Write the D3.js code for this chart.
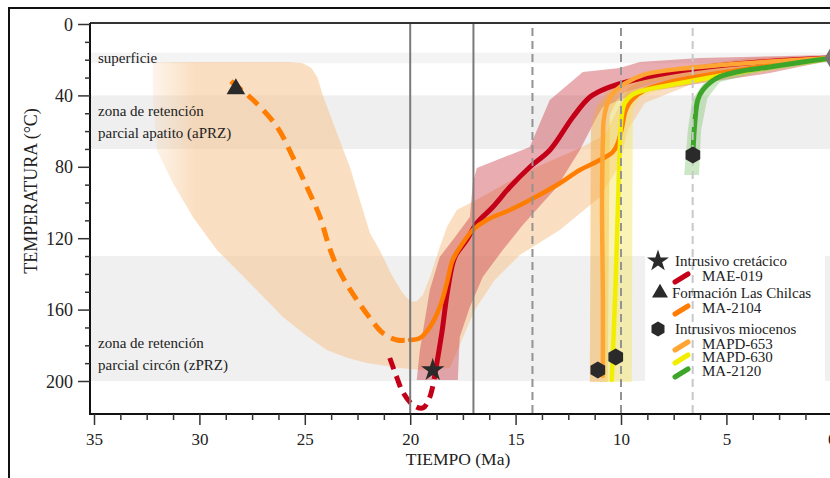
<!DOCTYPE html>
<html><head><meta charset="utf-8">
<script src="https://cdn.jsdelivr.net/npm/d3@7"></script>
<style>
body{margin:0;background:#fff;}
svg text{font-family:"Liberation Serif","Times New Roman",serif;fill:#222;}
</style></head>
<body><svg id="c" width="830" height="478"></svg>
<script>
// ---------- DATA ----------
const xTicksMajor = [35,30,25,20,15,10,5,0];
const xTicksMinor = [33.75,32.5,31.25,28.75,27.5,26.25,23.75,22.5,21.25,18.75,17.5,16.25,13.75,12.5,11.25,8.75,7.5,6.25,3.75,2.5,1.25];
const yTicksMajor = [0,40,80,120,160,200];
const yTicksMinor = [10,20,30,50,60,70,90,100,110,130,140,150,170,180,190];

const bands = [
  {t0:16, t1:22, fill:"#f4f4f4"},
  {t0:40, t1:70, fill:"#efefef"},
  {t0:130, t1:200, fill:"#f0f0f0"}
];
const zoneLabels = [
  {lines:["superficie"], t:19},
  {lines:["zona de retención","parcial apatito (aPRZ)"], t:55},
  {lines:["zona de retención","parcial circón (zPRZ)"], t:185}
];
const solidRefs = [20, 17];
const dashedRefs = [14.2, 10];
const lightDashedRefs = [6.6];

// MA-2104 (Formación Las Chilcas)
const ma2104Dashed = [[28.5,32],[28.40,33.1],[27.45,42.6],[26.31,57.7],[25.57,74.5],[24.90,91.3],[24.28,108.1],[23.90,122.7],[23.57,133.3],[23.10,144.0],[22.53,154.6],[21.91,164.7],[21.30,173.1],[20.63,177.0],[20.01,177.0]];
const ma2104Solid = [[20.01,177.0],[19.54,175.9],[19.06,169.7],[18.59,158.5],[18.26,145.1],[17.98,132.2],[17.50,122.7],[17.03,115.4],[16.37,109.8],[15.27,104.2],[14.32,98.6],[13.04,90.2],[11.95,81.8],[11.00,76.2],[10.39,71.7],[10.15,66.7],[9.96,58.3],[9.77,48.2],[9.49,42.6],[8.87,37.0],[7.68,32.5],[5.31,27.5],[2.47,22.4],[0,19]];
const ma2104Env = [[32.21,21.3],[25.71,21.3],[25.1,22.0],[24.7,24.5],[24.4,30],[24.15,39.8],[23.48,61.1],[22.86,80.1],[22.39,98.6],[21.91,117.1],[21.45,126.6],[20.9,140],[20.4,150],[20.0,155.5],[19.7,155.5],[19.4,151.8],[19.06,141.7],[18.6,125],[18.26,113.7],[17.79,104.2],[16.70,97.5],[14.33,81.8],[11.95,69.5],[10.77,62.2],[10.29,51.0],[9.68,35.9],[8.16,25.8],[3.89,19.0],[0,17.9],
  [0,20.7],[3.89,25.8],[6.74,34.2],[8.87,44.3],[9.68,59.4],[10.06,79.0],[11.0,96.9],[12.9,115.4],[14.8,129.4],[15.99,143.4],[16.94,160.2],[17.55,177.0],[18.12,192.7],[19.54,193.8],[20.49,192.7],[22.06,189.9],[23.0,187],[23.96,182.6],[25.0,174],[26.04,164.1],[27.61,145.1],[29.17,126.6],[30.31,108.1],[31.26,89.1],[32.02,70.6],[32.21,42.6]];
const ma2104Marker = [28.27,36.4];

// MAE-019 (Intrusivo cretácico)
const mae019Dashed = [[20.97,187.1],[20.64,197.8],[20.35,206.2],[19.87,213.4],[19.40,215.1],[19.07,209.0],[18.83,196.6]];
const mae019Solid = [[18.83,196.6],[18.50,173.1],[18.22,149.0],[17.88,130.5],[17.32,121.0],[16.84,111.5],[16.08,102.5],[15.27,91.3],[14.32,80.1],[13.37,70.6],[12.28,52.1],[11.47,40.9],[10.67,35.9],[8.77,29.7],[6.26,24.6],[3.41,21.3],[0,19]];
const mae019Env = [[19.69,199.4],[19.54,182.6],[19.07,149.0],[18.60,130.5],[17.98,121.0],[17.17,108.1],[17.03,89.1],[16.84,80.7],[14.33,68.9],[13.38,42.6],[11.81,26.9],[10.06,24.6],[9.11,21.3],[6.26,19.0],[0,17.4],
  [0,20.2],[2.94,27.5],[6.12,33.1],[9.25,38.7],[10.86,46.5],[11.15,52.1],[11.95,70.6],[13.04,91.3],[14.66,112.6],[15.61,126.6],[16.56,141.7],[17.17,158.5],[17.65,175.4],[17.74,199.4]];
const mae019Marker = [18.93,193.8];

// MAPD-653
const mapd653Line = [[10.86,197.2],[10.86,154.6],[10.90,98.6],[10.86,65],[10.82,53.8],[10.67,45.4],[10.44,39.8],[10.06,35.3],[8.97,28.6],[7.68,25.8],[5.31,23.0],[2.47,20.7],[0,19]];
const mapd653Env = [[11.48,200.6],[11.43,59.4],[11.2,47.1],[10.67,38.1],[9.58,31.4],[6.26,24.6],[0,17.9],[0,20.2],[5.31,26.9],[8.63,32.5],[10.06,39.8],[10.53,51.0],[10.63,200.6]];
const mapd653Marker = [11.10,193.8];

// MAPD-630
const mapd630Line = [[10.44,199.4],[10.34,171.4],[10.25,143.4],[10.15,104.2],[10.06,70.6],[9.96,51.0],[9.82,44.3],[9.49,39.8],[8.87,37.0],[7.68,34.2],[5.65,29.7],[2.94,24.1],[0,19]];
const mapd630Env = [[10.86,200.6],[10.77,65.0],[10.44,45.4],[9.82,38.1],[8.16,32.5],[4.36,25.8],[0,17.9],[0,20.7],[4.36,29.1],[8.16,37.0],[9.11,40.9],[9.44,48.2],[9.49,200.6]];
const mapd630Marker = [10.25,186.6];

// MA-2120
const ma2120Line = [[6.59,73.4],[6.50,55.5],[6.36,42.6],[6.12,37.0],[5.46,30.3],[4.50,26.9],[2.94,24.1],[1.38,21.3],[0,19]];
const ma2120Env = [[7.0,84.6],[6.83,59.4],[6.62,42.6],[6.1,33.5],[4.36,25.8],[0,17.9],[0,20.7],[3.42,26.9],[5.31,32.5],[5.9,41.5],[6.2,59.4],[6.3,84.6]];
const ma2120Marker = [6.59,73.4];

const surfacePoint = [0,19];

const legendItems = [
  {type:"marker", symbol:"star", label:"Intrusivo cretácico"},
  {type:"line", color:"#c40018", label:"MAE-019"},
  {type:"marker", symbol:"triangle", label:"Formación Las Chilcas"},
  {type:"line", color:"#ff7d00", label:"MA-2104"},
  {type:"marker", symbol:"hexagon", label:"Intrusivos miocenos"},
  {type:"line", color:"#ffa533", label:"MAPD-653"},
  {type:"line", color:"#f2ee00", label:"MAPD-630"},
  {type:"line", color:"#3ca52a", label:"MA-2120"}
];

// ---------- DRAW ----------
const svg = d3.select("#c");
const x = d3.scaleLinear().domain([35,0]).range([94,831.8]);
const y = d3.scaleLinear().domain([0,200]).range([24,381]);
const L = 90, T = 23, B = 414, R = 860;
const markFill = "#2a2a2a";

const defs = svg.append("defs");
const g1 = defs.append("linearGradient").attr("id","peachGrad").attr("gradientUnits","userSpaceOnUse")
  .attr("x1",150).attr("x2",195).attr("y1",0).attr("y2",0);
g1.append("stop").attr("offset",0).attr("stop-color","#f7c48f").attr("stop-opacity",0.15);
g1.append("stop").attr("offset",1).attr("stop-color","#f7c48f").attr("stop-opacity",0.55);

// outer frame
svg.append("rect").attr("x",9).attr("y",8).attr("width",900).attr("height",600)
  .attr("fill","none").attr("stroke","#111").attr("stroke-width",2);

// bands
svg.selectAll(".band").data(bands).join("rect")
  .attr("x",L+1).attr("width",R-L).attr("y",d=>y(d.t0)).attr("height",d=>y(d.t1)-y(d.t0))
  .attr("fill",d=>d.fill);

// legend background
svg.append("rect").attr("x",645).attr("y",248).attr("width",180).attr("height",137).attr("fill","#fff");

const area = d3.line().x(d=>x(d[0])).y(d=>y(d[1])).curve(d3.curveLinearClosed);
const line = d3.line().x(d=>x(d[0])).y(d=>y(d[1])).curve(d3.curveCatmullRom.alpha(0.5));

// envelopes
svg.append("path").attr("d",area(ma2104Env)).attr("fill","url(#peachGrad)");
svg.append("path").attr("d",area(mae019Env)).attr("fill","#c8303a").attr("fill-opacity",0.4);
svg.append("path").attr("d",area(mapd653Env)).attr("fill","#f3a83a").attr("fill-opacity",0.45);
svg.append("path").attr("d",area(mapd630Env)).attr("fill","#f7e35a").attr("fill-opacity",0.45);
svg.append("path").attr("d",area(ma2120Env)).attr("fill","#7cc46a").attr("fill-opacity",0.4);

// zone labels (above envelopes)
zoneLabels.forEach(z=>{
  const n = z.lines.length;
  z.lines.forEach((s,i)=>{
    svg.append("text").attr("x",98).attr("y",y(z.t)+ (i-(n-1)/2)*22 + 5)
      .attr("font-size",15).text(s);
  });
});

// lines
function drawLine(data,color,w,dash){
  const p = svg.append("path").attr("d",line(data)).attr("fill","none").attr("stroke",color)
    .attr("stroke-width",w).attr("stroke-linejoin","round");
  if(dash) p.attr("stroke-dasharray",dash).attr("stroke-linecap","butt");
  else p.attr("stroke-linecap","round");
}
drawLine(mae019Dashed,"#c40018",5,"12,7");
drawLine(mae019Solid,"#c40018",5);
drawLine(ma2104Dashed,"#ff7d00",5,"14,8");
drawLine(ma2104Solid,"#ff7d00",4.5);
drawLine(mapd653Line,"#ffa533",4.5);
drawLine(mapd630Line,"#f2ee00",4.5);
drawLine(ma2120Line,"#3ca52a",5);

// reference verticals
svg.selectAll(".sref").data(solidRefs).join("line")
  .attr("x1",d=>x(d)).attr("x2",d=>x(d)).attr("y1",T).attr("y2",B)
  .attr("stroke","#7a7a7a").attr("stroke-width",2);
svg.selectAll(".dref").data(dashedRefs).join("line")
  .attr("x1",d=>x(d)).attr("x2",d=>x(d)).attr("y1",T+5).attr("y2",B)
  .attr("stroke","#939393").attr("stroke-width",2).attr("stroke-dasharray","8,5");
svg.selectAll(".ldref").data(lightDashedRefs).join("line")
  .attr("x1",d=>x(d)).attr("x2",d=>x(d)).attr("y1",T+5).attr("y2",B)
  .attr("stroke","#c8c8c8").attr("stroke-width",2).attr("stroke-dasharray","8,5");

// markers
function hexPath(r){
  const pts = d3.range(6).map(i=>{const a=Math.PI/6+i*Math.PI/3; return [r*Math.cos(a), r*Math.sin(a)];});
  return "M"+pts.map(p=>p.join(",")).join("L")+"Z";
}
function symbolPath(s){
  if(s==="star") return d3.symbol(d3.symbolStar,170)();
  if(s==="triangle") return d3.symbol(d3.symbolTriangle,150)();
  return hexPath(8.5);
}
const markers = [
  {p:mae019Marker,s:"star"},{p:ma2104Marker,s:"triangle"},
  {p:mapd653Marker,s:"hexagon"},{p:mapd630Marker,s:"hexagon"},{p:ma2120Marker,s:"hexagon"}
];
markers.forEach(m=>{
  svg.append("path").attr("d",symbolPath(m.s))
    .attr("transform",`translate(${x(m.p[0])},${y(m.p[1])})`).attr("fill",markFill);
});
svg.append("path").attr("d",d3.symbol(d3.symbolDiamond,180)())
  .attr("transform",`translate(${x(surfacePoint[0])},${y(surfacePoint[1])})`).attr("fill","#7a7272");

// axes frame
svg.append("line").attr("x1",L).attr("x2",R).attr("y1",T).attr("y2",T).attr("stroke","#333").attr("stroke-width",2);
svg.append("line").attr("x1",L).attr("x2",L).attr("y1",T).attr("y2",B).attr("stroke","#111").attr("stroke-width",2);
svg.append("line").attr("x1",L-1).attr("x2",R).attr("y1",B).attr("y2",B).attr("stroke","#111").attr("stroke-width",2.2);

// x axis
const gx = svg.append("g").attr("transform",`translate(0,${B})`);
gx.call(d3.axisBottom(x).tickValues(xTicksMajor).tickSize(11).tickPadding(8).tickFormat(d3.format("d")));
const gxm = svg.append("g").attr("transform",`translate(0,${B})`);
gxm.call(d3.axisBottom(x).tickValues(xTicksMinor).tickSize(6).tickFormat(""));
// y axis
const gy = svg.append("g").attr("transform",`translate(${L},0)`);
gy.call(d3.axisLeft(y).tickValues(yTicksMajor).tickSize(12).tickPadding(5).tickFormat(d3.format("d")));
const gym = svg.append("g").attr("transform",`translate(${L},0)`);
gym.call(d3.axisLeft(y).tickValues(yTicksMinor).tickSize(5).tickFormat(""));
[gx,gxm,gy,gym].forEach(g=>{
  g.select(".domain").remove();
  g.selectAll(".tick line").attr("stroke","#333").attr("stroke-width",1.5);
  g.selectAll("text").attr("font-family","Liberation Serif, serif").attr("fill","#222");
});
gx.selectAll("text").attr("font-size",17);
gy.selectAll("text").attr("font-size",18).attr("dy","0.34em");

// axis titles
svg.append("text").attr("x",458).attr("y",465).attr("text-anchor","middle").attr("font-size",17.5).text("TIEMPO (Ma)");
svg.append("text").attr("transform","translate(37,191) rotate(-90)").attr("text-anchor","middle")
  .attr("font-size",18).text("TEMPERATURA (°C)");

// legend
const legRows = [266,281,298,313,334,349,362,376];
legendItems.forEach((it,i)=>{
  const by = legRows[i];
  if(it.type==="marker"){
    const cx = it.symbol==="triangle"?660:658;
    const cy = by-5;
    svg.append("path").attr("d", it.symbol==="star"?d3.symbol(d3.symbolStar,150)():
        it.symbol==="triangle"?d3.symbol(d3.symbolTriangle,110)():hexPath(7.5))
      .attr("transform",`translate(${cx},${cy})`).attr("fill",markFill);
    svg.append("text").attr("x", it.symbol==="triangle"?672:675).attr("y",by).attr("font-size",15).text(it.label);
  } else {
    svg.append("line").attr("x1",675).attr("y1",by+1).attr("x2",688).attr("y2",by-7)
      .attr("stroke",it.color).attr("stroke-width",5).attr("stroke-linecap","round");
    svg.append("text").attr("x",702).attr("y",by).attr("font-size",15).text(it.label);
  }
});
</script></body></html>
